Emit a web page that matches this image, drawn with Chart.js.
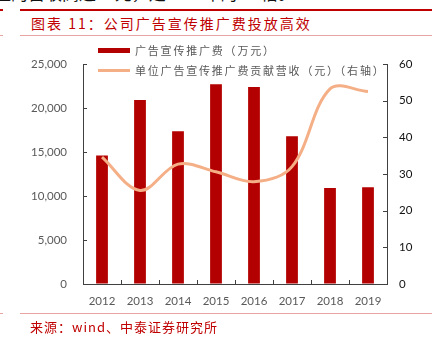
<!DOCTYPE html>
<html>
<head>
<meta charset="utf-8">
<script src="https://cdn.jsdelivr.net/npm/chart.js@4/dist/chart.umd.min.js"></script>
<style>
  html, body { margin: 0; padding: 0; background: #fff; }
  body { width: 441px; height: 341px; position: relative; overflow: hidden; }
  #wrap { position: absolute; left: 0; top: 0; width: 441px; height: 341px; }
  .abs { position: absolute; white-space: nowrap; }
  #cut { left: -6px; top: -16px; font: 17px/18px "Noto Sans CJK SC", sans-serif; color: #111; }
  #redline { left: 20px; top: 9px; width: 412px; height: 2px; background: #C00000; }
  #redfrag { left: 0; top: 9px; width: 3px; height: 2px; background: #C00000; }
  #title { left: 31px; top: 14px; font: 14px/18px "Noto Sans CJK SC", sans-serif; color: #C00000; letter-spacing: 2px; }
  .thin { left: 20px; width: 412px; height: 1px; background: #E8A3A3; }
  .thinfrag { left: 0; width: 3px; height: 1px; background: #E8A3A3; }
  #source { left: 30px; top: 318px; font: 13px/18px "Noto Sans CJK SC", sans-serif; color: #C00000; letter-spacing: 1px; }
</style>
</head>
<body>
<div id="cut" class="abs">应的营收高达53元，是2017年的1.7倍。</div>
<div id="redfrag" class="abs"></div>
<div id="redline" class="abs"></div>
<div id="title" class="abs">图表 11：公司广告宣传推广费投放高效</div>
<div class="abs thin" style="top:35px"></div>
<div class="abs thinfrag" style="top:35px"></div>
<div id="wrap"><canvas id="chart" width="441" height="341"></canvas></div>
<div class="abs thin" style="top:313px"></div>
<div class="abs thinfrag" style="top:313px"></div>
<div id="source" class="abs">来源：wind、中泰证券研究所</div>
<script>
// data
var years = ['2012', '2013', '2014', '2015', '2016', '2017', '2018', '2019'];
var adSpend = [14600, 20900, 17350, 22700, 22400, 16800, 10900, 11000];      // 万元, left axis
var revenuePerAd = [34.6, 25.5, 32.7, 30.6, 27.9, 32.0, 53.2, 52.5];          // 元, right axis
var barLabel = '广告宣传推广费（万元）';
var lineLabel = '单位广告宣传推广费贡献营收（元）（右轴）';
var leftMax = 25000, leftStep = 5000;
var rightMax = 60, rightStep = 10;

var barColor = '#B30000';
var lineColor = '#F5AF86';
var axisColor = '#404040';
var tickFont = { family: 'Lato', size: 11.5 };

// small tick marks pointing into the plot, like the original
var innerTicks = {
    id: 'innerTicks',
    afterDraw: function (chart) {
        var c = chart.ctx, a = chart.chartArea;
        var x = chart.scales.x, y = chart.scales.y, y1 = chart.scales.y1;
        c.save();
        c.strokeStyle = axisColor;
        c.lineWidth = 1;
        c.beginPath();
        y.ticks.forEach(function (t) {
            var p = Math.round(y.getPixelForValue(t.value)) + 0.5;
            c.moveTo(a.left, p); c.lineTo(a.left + 4, p);
        });
        y1.ticks.forEach(function (t) {
            var p = Math.round(y1.getPixelForValue(t.value)) + 0.5;
            c.moveTo(a.right, p); c.lineTo(a.right - 4, p);
        });
        for (var i = 1; i < years.length; i++) {
            var px = Math.round((x.getPixelForTick(i - 1) + x.getPixelForTick(i)) / 2) + 0.5;
            c.moveTo(px, a.bottom); c.lineTo(px, a.bottom - 4);
        }
        c.stroke();
        c.restore();
    }
};

// legend sits inside the plot area at the top left
var innerLegend = {
    id: 'innerLegend',
    afterDraw: function (chart) {
        var c = chart.ctx;
        var ds = chart.data.datasets;
        c.save();
        c.fillStyle = ds[0].backgroundColor;
        c.fillRect(98, 48, 32, 5);
        c.strokeStyle = ds[1].borderColor;
        c.lineWidth = 3;
        c.beginPath();
        c.moveTo(98, 70.5); c.lineTo(130, 70.5);
        c.stroke();
        c.font = '11px "Noto Sans CJK SC"';
        if ('letterSpacing' in c) c.letterSpacing = '1.8px';
        c.fillStyle = '#595959';
        c.textBaseline = 'middle';
        c.fillText(ds[0].label, 135, 50.5);
        c.fillText(ds[1].label, 135, 70.5);
        c.restore();
    }
};

var ctx = document.getElementById('chart').getContext('2d');
var chart = new Chart(ctx, {
    type: 'bar',
    data: {
        labels: years,
        datasets: [{
            type: 'bar',
            label: barLabel,
            data: adSpend,
            backgroundColor: barColor,
            yAxisID: 'y',
            order: 1,
            barPercentage: 0.31,
            categoryPercentage: 1
        }, {
            type: 'line',
            label: lineLabel,
            data: revenuePerAd,
            borderColor: lineColor,
            borderWidth: 3,
            pointRadius: 0,
            tension: 0.35,
            fill: false,
            yAxisID: 'y1',
            order: 0
        }]
    },
    options: {
        responsive: false,
        animation: false,
        layout: { padding: { top: 64, left: 0, right: 0, bottom: 0 } },
        plugins: {
            legend: { display: false },
            tooltip: { enabled: false }
        },
        scales: {
            x: {
                grid: { display: true, drawOnChartArea: false, drawTicks: false },
                border: { color: axisColor },
                ticks: { color: '#595959', font: tickFont, padding: 10, maxRotation: 0 },
                afterFit: function (s) { s.height = 57; }
            },
            y: {
                position: 'left',
                min: 0, max: leftMax,
                grid: { display: true, drawOnChartArea: false, drawTicks: false },
                border: { color: axisColor },
                ticks: {
                    stepSize: leftStep, color: '#595959', font: tickFont, padding: 16,
                    callback: function (v) { return v.toLocaleString('en-US'); }
                },
                afterFit: function (s) { s.width = 83; }
            },
            y1: {
                position: 'right',
                min: 0, max: rightMax,
                grid: { display: true, drawOnChartArea: false, drawTicks: false },
                border: { color: axisColor },
                ticks: { stepSize: rightStep, color: '#111', font: tickFont, padding: 12 },
                afterFit: function (s) { s.width = 54; }
            }
        }
    },
    plugins: [innerTicks, innerLegend]
});
</script>
</body>
</html>
